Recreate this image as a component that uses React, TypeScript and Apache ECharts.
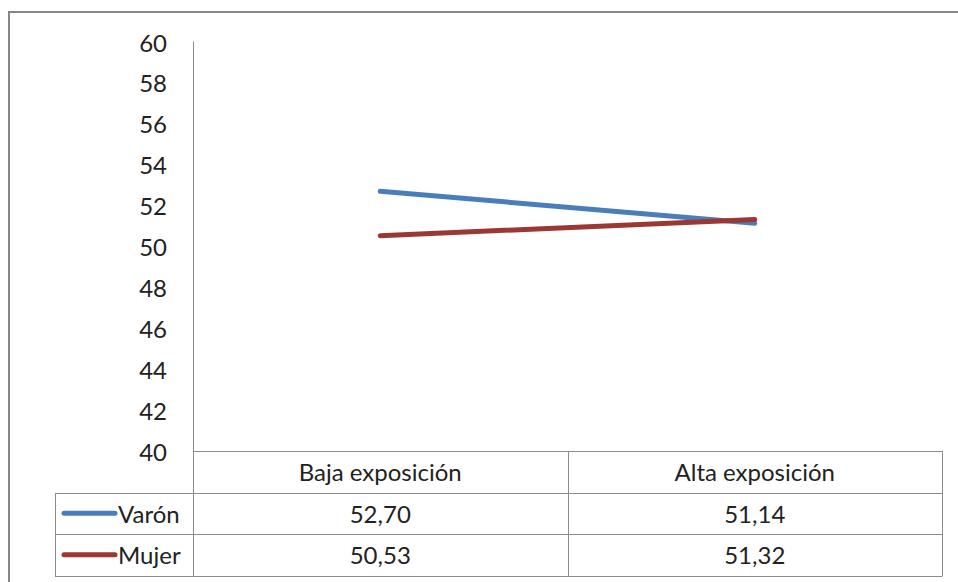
import React, { useEffect, useRef } from "react";
import * as echarts from "echarts";

const categories = ["Baja exposición", "Alta exposición"];
const seriesNames = ["Varón", "Mujer"];
const varonValues = [52.7, 51.14];
const mujerValues = [50.53, 51.32];
const seriesColors = ["#4A7EBB", "#9B3834"];

const FONT = "Lato, 'Open Sans', sans-serif";
const FS = 24;
const TEXT_COLOR = "#222";
const GRID_LEFT = 193;
const GRID_RIGHT_X = 942;
const GRID_TOP = 42;
const AXIS_Y = 451;
const ROW_H = 41.5;
const TABLE_LEFT = 55;
const LINE_COLOR = "#8c8c8c";

const fmt = (v: number) => v.toFixed(2).replace(".", ",");

export default function App() {
  const ref = useRef<HTMLDivElement>(null);
  useEffect(() => {
    if (!ref.current) return;
    const chart = echarts.init(ref.current, undefined, { renderer: "svg" });
    const allValues = [varonValues, mujerValues];
    const colW = (GRID_RIGHT_X - GRID_LEFT) / categories.length;
    const bottomY = AXIS_Y + ROW_H * 3;
    const graphics: any[] = [];
    graphics.push({
      type: "rect",
      shape: { x: 9, y: 12, width: 1200, height: 1200 },
      style: { fill: "none", stroke: "#868686", lineWidth: 2 },
      silent: true,
    });
    graphics.push({ type: "line", shape: { x1: GRID_LEFT, y1: AXIS_Y + 0.5, x2: GRID_RIGHT_X, y2: AXIS_Y + 0.5 }, style: { stroke: LINE_COLOR, lineWidth: 1 } });
    for (let r = 1; r <= 3; r++) {
      const y = Math.round(AXIS_Y + ROW_H * r) + 0.5;
      graphics.push({ type: "line", shape: { x1: TABLE_LEFT, y1: y, x2: GRID_RIGHT_X, y2: y }, style: { stroke: LINE_COLOR, lineWidth: 1 } });
    }
    for (let c = 0; c <= categories.length; c++) {
      const x = Math.round(GRID_LEFT + colW * c) + 0.5;
      graphics.push({ type: "line", shape: { x1: x, y1: AXIS_Y, x2: x, y2: Math.round(bottomY) + 0.5 }, style: { stroke: LINE_COLOR, lineWidth: 1 } });
    }
    graphics.push({ type: "line", shape: { x1: TABLE_LEFT + 0.5, y1: Math.round(AXIS_Y + ROW_H) + 0.5, x2: TABLE_LEFT + 0.5, y2: Math.round(bottomY) + 0.5 }, style: { stroke: LINE_COLOR, lineWidth: 1 } });
    categories.forEach((cat, i) => {
      graphics.push({
        type: "text",
        x: GRID_LEFT + colW * (i + 0.5),
        y: AXIS_Y + ROW_H * 0.5,
        style: { text: cat, font: `${FS}px ${FONT}`, fill: TEXT_COLOR, align: "center", verticalAlign: "middle" },
      });
    });
    seriesNames.forEach((name, s) => {
      const cy = AXIS_Y + ROW_H * (s + 1.5);
      graphics.push({
        type: "line",
        shape: { x1: 64, y1: cy, x2: 115, y2: cy },
        style: { stroke: seriesColors[s], lineWidth: 5, lineCap: "round" },
      });
      graphics.push({
        type: "text",
        x: 118,
        y: cy,
        style: { text: name, font: `${FS}px ${FONT}`, fill: TEXT_COLOR, align: "left", verticalAlign: "middle" },
      });
      allValues[s].forEach((v, i) => {
        graphics.push({
          type: "text",
          x: GRID_LEFT + colW * (i + 0.5),
          y: cy,
          style: { text: fmt(v), font: `${FS}px ${FONT}`, fill: TEXT_COLOR, align: "center", verticalAlign: "middle" },
        });
      });
    });

    chart.setOption({
      animation: false,
      backgroundColor: "#fff",
      grid: { left: GRID_LEFT, right: 958 - GRID_RIGHT_X, top: GRID_TOP, bottom: 582 - AXIS_Y, containLabel: false },
      xAxis: {
        type: "category",
        data: categories,
        boundaryGap: true,
        axisLine: { show: false },
        axisTick: { show: false },
        axisLabel: { show: false },
        splitLine: { show: false },
      },
      yAxis: {
        type: "value",
        min: 40,
        max: 60,
        interval: 2,
        axisLine: { show: true, lineStyle: { color: LINE_COLOR, width: 1 } },
        axisTick: { show: false },
        splitLine: { show: false },
        axisLabel: { color: TEXT_COLOR, fontSize: FS, fontFamily: FONT, margin: 26, padding: [0, 0, 4, 0] },
      },
      series: [
        { name: seriesNames[0], type: "line", data: varonValues, showSymbol: false, symbol: "none", lineStyle: { color: seriesColors[0], width: 5, cap: "round" }, itemStyle: { color: seriesColors[0] } },
        { name: seriesNames[1], type: "line", data: mujerValues, showSymbol: false, symbol: "none", lineStyle: { color: seriesColors[1], width: 5, cap: "round" }, itemStyle: { color: seriesColors[1] } },
      ],
      graphic: graphics,
    });
    return () => chart.dispose();
  }, []);
  return <div ref={ref} style={{ position: "fixed", left: 0, top: 0, width: 958, height: 582 }} />;
}
